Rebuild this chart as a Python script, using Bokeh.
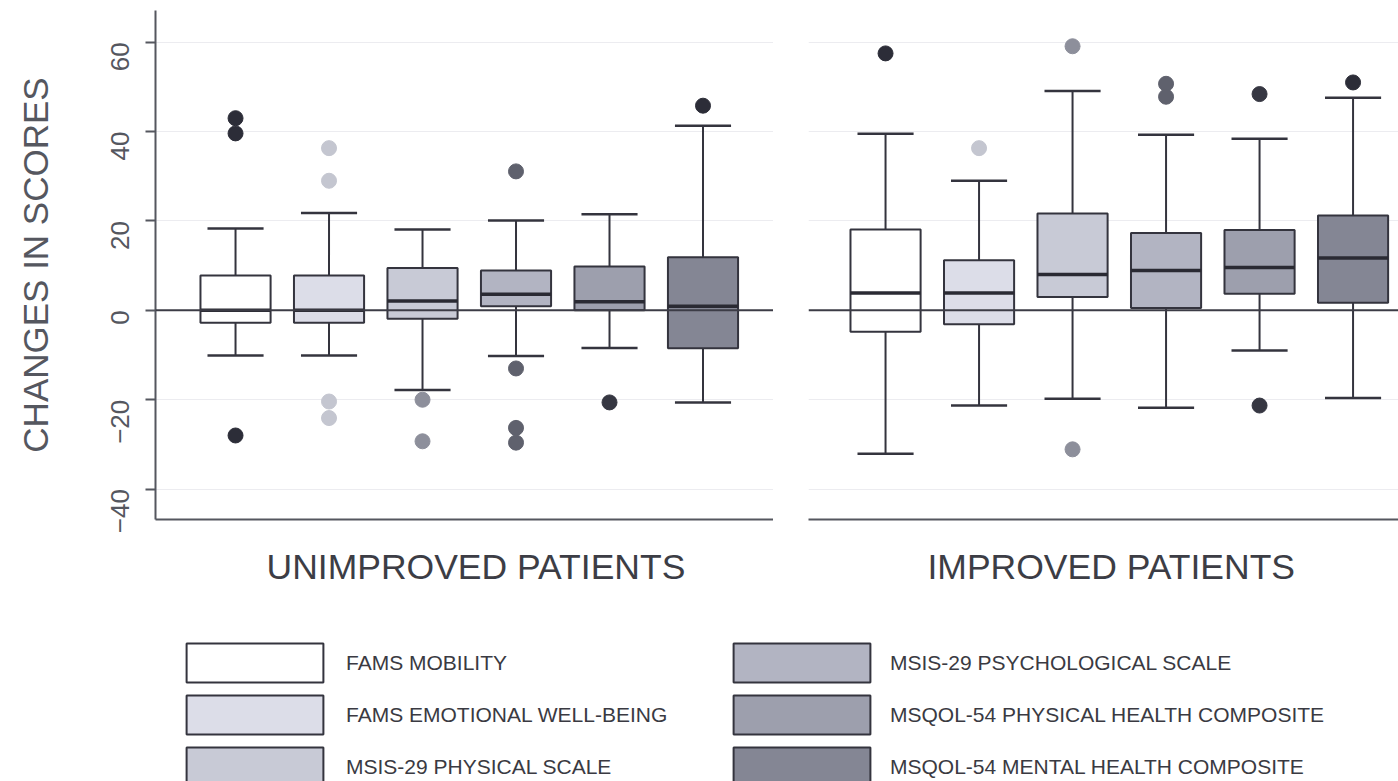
import math
from bokeh.plotting import figure
from bokeh.models import (ColumnDataSource, Range1d, FixedTicker, Span, Legend, LegendItem,
                          Title)
from bokeh.layouts import column, row
from bokeh.transform import dodge
from bokeh.embed import file_html
from bokeh.resources import INLINE

# ---------------- data ----------------
measures = [
    "FAMS MOBILITY",
    "FAMS EMOTIONAL WELL-BEING",
    "MSIS-29 PHYSICAL SCALE",
    "MSIS-29 PSYCHOLOGICAL SCALE",
    "MSQOL-54 PHYSICAL HEALTH COMPOSITE",
    "MSQOL-54 MENTAL HEALTH COMPOSITE",
]
groups = ["UNIMPROVED PATIENTS", "IMPROVED PATIENTS"]
y_ticks = [-40, -20, 0, 20, 40, 60]

fills = ["#ffffff", "#dcdde8", "#c8cad6", "#b2b4c2", "#9d9fad", "#848694"]
outlier_colors = ["#2c2d38", "#c4c6d0", "#8d8f9b", "#5f616d", "#363742", "#2c2d38"]

unimproved_lo = [-10.1, -10.1, -17.8, -10.2, -8.4, -20.6]
unimproved_q1 = [-2.8, -2.8, -1.9, 0.9, 0.0, -8.5]
unimproved_med = [0.0, 0.0, 2.1, 3.6, 1.9, 0.9]
unimproved_q3 = [7.8, 7.8, 9.5, 8.9, 9.8, 11.9]
unimproved_hi = [18.3, 21.8, 18.1, 20.1, 21.5, 41.3]
unimproved_outliers = [
    [43.0, 39.6, -28.0],
    [36.3, 29.0, -20.4, -24.1],
    [-20.0, -29.3],
    [31.1, -13.0, -26.3, -29.6],
    [-20.6],
    [45.8],
]

improved_lo = [-32.1, -21.3, -19.8, -21.8, -9.0, -19.6]
improved_q1 = [-4.8, -3.1, 3.0, 0.5, 3.7, 1.7]
improved_med = [3.9, 3.9, 8.0, 8.9, 9.6, 11.7]
improved_q3 = [18.1, 11.2, 21.7, 17.3, 18.0, 21.2]
improved_hi = [39.5, 29.0, 49.1, 39.3, 38.4, 47.6]
improved_outliers = [
    [57.5],
    [36.3],
    [59.1, -31.1],
    [50.7, 47.8],
    [48.4, -21.3],
    [51.0],
]

# ---------------- style ----------------
FONT = "Liberation Sans"
LINE = "#34343e"
AXIS = "#55575f"
BORDER_BOTTOM = 100
PANEL_H = 10 + 509 + BORDER_BOTTOM
Y_RANGE = (-46.8, 67.1)


def make_panel(lo, q1, med, q3, hi, outl, label, width, border_left, xr, label_offset, show_y):
    p = figure(
        width=width, height=PANEL_H,
        x_range=Range1d(*xr), y_range=Range1d(*Y_RANGE),
        output_backend="svg", toolbar_location=None,
        y_axis_location="left" if show_y else None,
        min_border_left=border_left, min_border_right=0,
        min_border_top=10, min_border_bottom=BORDER_BOTTOM,
    )
    p.outline_line_color = None
    p.background_fill_color = "white"
    p.border_fill_color = "white"

    pos = list(range(1, len(measures) + 1))
    src = ColumnDataSource(dict(x=pos, lo=lo, q1=q1, med=med, q3=q3, hi=hi, fill=fills))

    # grid
    p.xgrid.visible = False
    p.ygrid.ticker = FixedTicker(ticks=[t for t in y_ticks if t != 0])
    p.ygrid.grid_line_color = "#ececf0"
    p.ygrid.grid_line_width = 1

    # whiskers
    p.segment(x0="x", y0="q3", x1="x", y1="hi", source=src, line_color=LINE, line_width=2)
    p.segment(x0="x", y0="q1", x1="x", y1="lo", source=src, line_color=LINE, line_width=2)
    p.segment(x0=dodge("x", -0.3), y0="hi", x1=dodge("x", 0.3), y1="hi", source=src,
              line_color=LINE, line_width=2.5)
    p.segment(x0=dodge("x", -0.3), y0="lo", x1=dodge("x", 0.3), y1="lo", source=src,
              line_color=LINE, line_width=2.5)
    # boxes
    p.vbar(x="x", width=0.75, bottom="q1", top="q3", source=src,
           fill_color="fill", line_color=LINE, line_width=2)
    # medians
    p.segment(x0=dodge("x", -0.375), y0="med", x1=dodge("x", 0.375), y1="med", source=src,
              line_color="#2a2a33", line_width=3.5)

    # outliers
    ox, oy, oc = [], [], []
    for i, vals in enumerate(outl):
        for v in vals:
            ox.append(pos[i])
            oy.append(v)
            oc.append(outlier_colors[i])
    osrc = ColumnDataSource(dict(x=ox, y=oy, c=oc))
    p.scatter(x="x", y="y", source=osrc, size=15, fill_color="c", line_color="c")

    # zero reference line
    p.add_layout(Span(location=0, dimension="width", line_color="#3c3c46", line_width=2))

    # bottom axis line (no ticks)
    xa = p.xaxis[0]
    xa.ticker = FixedTicker(ticks=[])
    xa.axis_line_color = AXIS
    xa.axis_line_width = 2
    xa.major_tick_line_color = None
    xa.minor_tick_line_color = None
    xa.major_tick_out = 0
    xa.major_tick_in = 0
    xa.minor_tick_out = 0

    # group label below the panel
    p.add_layout(Title(text=label, align="left", offset=label_offset,
                       vertical_align="top", standoff=54,
                       text_font=FONT, text_font_size="35.5px",
                       text_font_style="normal", text_color="#3c3d45"), "below")

    if show_y:
        ya = p.yaxis[0]
        ya.ticker = FixedTicker(ticks=y_ticks)
        ya.axis_line_color = AXIS
        ya.axis_line_width = 2
        ya.major_tick_line_color = AXIS
        ya.major_tick_line_width = 2
        ya.major_tick_out = 10
        ya.major_tick_in = 0
        ya.minor_tick_line_color = None
        ya.major_label_orientation = math.pi / 2
        ya.major_label_text_font = FONT
        ya.major_label_text_font_size = "26px"
        ya.major_label_text_color = AXIS
        ya.major_label_standoff = 25
        ya.axis_label = "CHANGES IN SCORES"
        ya.axis_label_text_font = FONT
        ya.axis_label_text_font_size = "35px"
        ya.axis_label_text_font_style = "normal"
        ya.axis_label_text_color = AXIS
        ya.axis_label_standoff = 45
    return p


p1 = make_panel(unimproved_lo, unimproved_q1, unimproved_med, unimproved_q3, unimproved_hi,
                unimproved_outliers, groups[0], 773, 155, (0.144, 6.754), 111, True)
p2 = make_panel(improved_lo, improved_q1, improved_med, improved_q3, improved_hi,
                improved_outliers, groups[1], 625, 35, (0.176, 6.486), 119, False)

# ---------------- legend panel ----------------
p3 = figure(width=1398, height=781 - PANEL_H, x_range=Range1d(0, 1), y_range=Range1d(0, 1),
            output_backend="svg", toolbar_location=None,
            x_axis_location=None, y_axis_location=None,
            min_border=0)
p3.outline_line_color = None
p3.xgrid.visible = False
p3.ygrid.visible = False

swatches = []
for i, m in enumerate(measures):
    # legend-only renderer: a single undefined (NaN) bar, never shown in the frame
    r = p3.vbar(x=[math.nan], top=[math.nan], bottom=[math.nan], width=0.1,
                fill_color=fills[i], line_color=LINE, line_width=2)
    swatches.append(LegendItem(label=m, renderers=[r]))


def make_legend(items, x, y, standoff):
    return Legend(items=items, location=(x, y), orientation="vertical",
                  glyph_width=171, glyph_height=49, spacing=3,
                  label_standoff=standoff, padding=0, margin=0,
                  border_line_color=None, background_fill_alpha=0,
                  label_text_font=FONT, label_text_font_size="21px",
                  label_text_color="#3a3a42", label_height=20)


p3.add_layout(make_legend(swatches[:3], 169, -10, 6))
p3.add_layout(make_legend(swatches[3:], 716, -10, 3))

layout = column(row(p1, p2), p3)

open("out.html", "w").write(file_html(layout, INLINE))
